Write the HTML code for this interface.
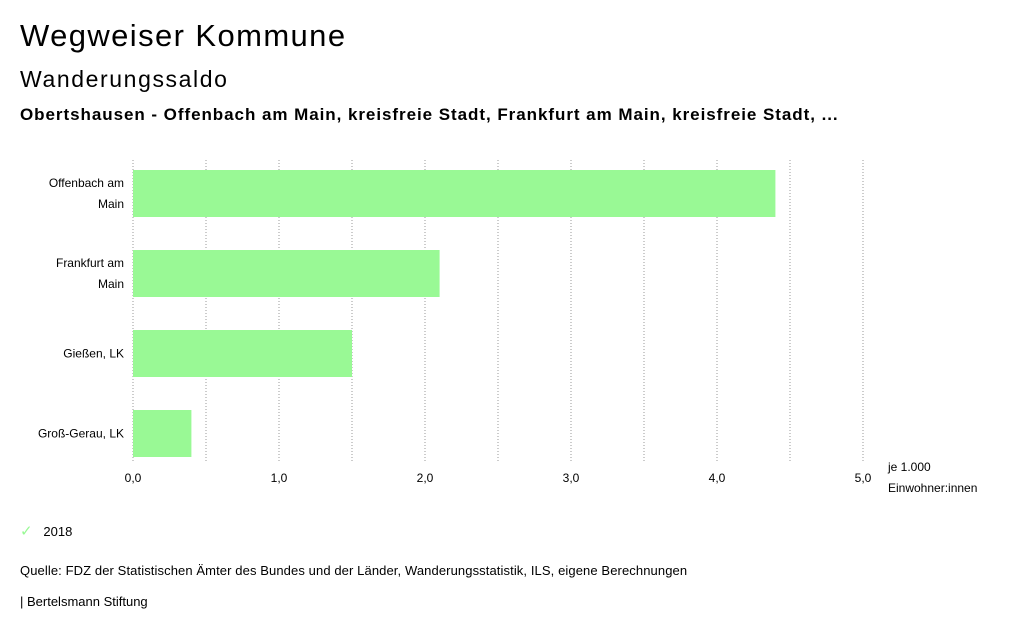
<!DOCTYPE html>
<html><head><meta charset="utf-8"><style>
body{margin:0;width:1024px;height:634px;background:#fff;font-family:"Liberation Sans","DejaVu Sans",sans-serif;color:#000;overflow:hidden;position:relative}
.t{position:absolute;white-space:nowrap}
</style></head><body>
<div class="t" style="left:20px;top:18px;font-size:31px;letter-spacing:1.4px">Wegweiser Kommune</div>
<div class="t" style="left:20px;top:66px;font-size:23px;letter-spacing:1.6px">Wanderungssaldo</div>
<div class="t" style="left:20px;top:105px;font-size:17px;font-weight:bold;letter-spacing:0.95px">Obertshausen - Offenbach am Main, kreisfreie Stadt, Frankfurt am Main, kreisfreie Stadt, ...</div>
<svg id="chart" width="1024" height="634" style="position:absolute;left:0;top:0"></svg>
<div class="t" style="left:20px;top:522px;font-size:13px"><span style="color:#99f995;font-weight:bold;font-size:15px">✓</span>&nbsp;&nbsp;&nbsp;2018</div>
<div class="t" style="left:20px;top:563px;font-size:13px;letter-spacing:0.1px">Quelle: FDZ der Statistischen Ämter des Bundes und der Länder, Wanderungsstatistik, ILS, eigene Berechnungen</div>
<div class="t" style="left:20px;top:594px;font-size:13px">| Bertelsmann Stiftung</div>
<script>
const categories=[["Offenbach am","Main"],["Frankfurt am","Main"],["Gießen, LK"],["Groß-Gerau, LK"]];
const values=[4.4,2.1,1.5,0.4];
const ticks=[0,1,2,3,4,5];
const tickLabels=["0,0","1,0","2,0","3,0","4,0","5,0"];
const svg=document.getElementById('chart');const NS='http://www.w3.org/2000/svg';
const x0=133,x1=863,xmax=5;const X=v=>x0+(x1-x0)*v/xmax;
const top0=160,band=80;
function mk(t,a){const e=document.createElementNS(NS,t);for(const k in a)e.setAttribute(k,a[k]);svg.appendChild(e);return e;}
for(let g=0.5;g<=xmax+1e-9;g+=0.5){const l=mk('line',{x1:X(g),x2:X(g),y1:160,y2:462,stroke:'#999','stroke-dasharray':'1,2'});

}
const ax=mk('line',{x1:x0,x2:x0,y1:160,y2:462,stroke:'#999','stroke-dasharray':'1,2'});


ticks.forEach((t,i)=>{const e=mk('text',{x:X(t),y:482,'font-size':12,'text-anchor':'middle','font-family':'Liberation Sans, sans-serif'});e.textContent=tickLabels[i];

});
values.forEach((v,i)=>{const y=top0+i*band+10;
const r=mk('rect',{x:x0,y:y,width:X(v)-x0,height:47,fill:'#99f995'});


const lines=categories[i];const cy=y+23.5;
lines.forEach((s,j)=>{const t=mk('text',{x:124,y:cy+4+(j-(lines.length-1)/2)*21,'font-size':12,'text-anchor':'end','font-family':'Liberation Sans, sans-serif'});t.textContent=s;

});});
[["je 1.000",471],["Einwohner:innen",492]].forEach(([s,y])=>{const t=mk('text',{x:888,y:y,'font-size':12,'font-family':'Liberation Sans, sans-serif'});t.textContent=s;

});
</script>
</body></html>
